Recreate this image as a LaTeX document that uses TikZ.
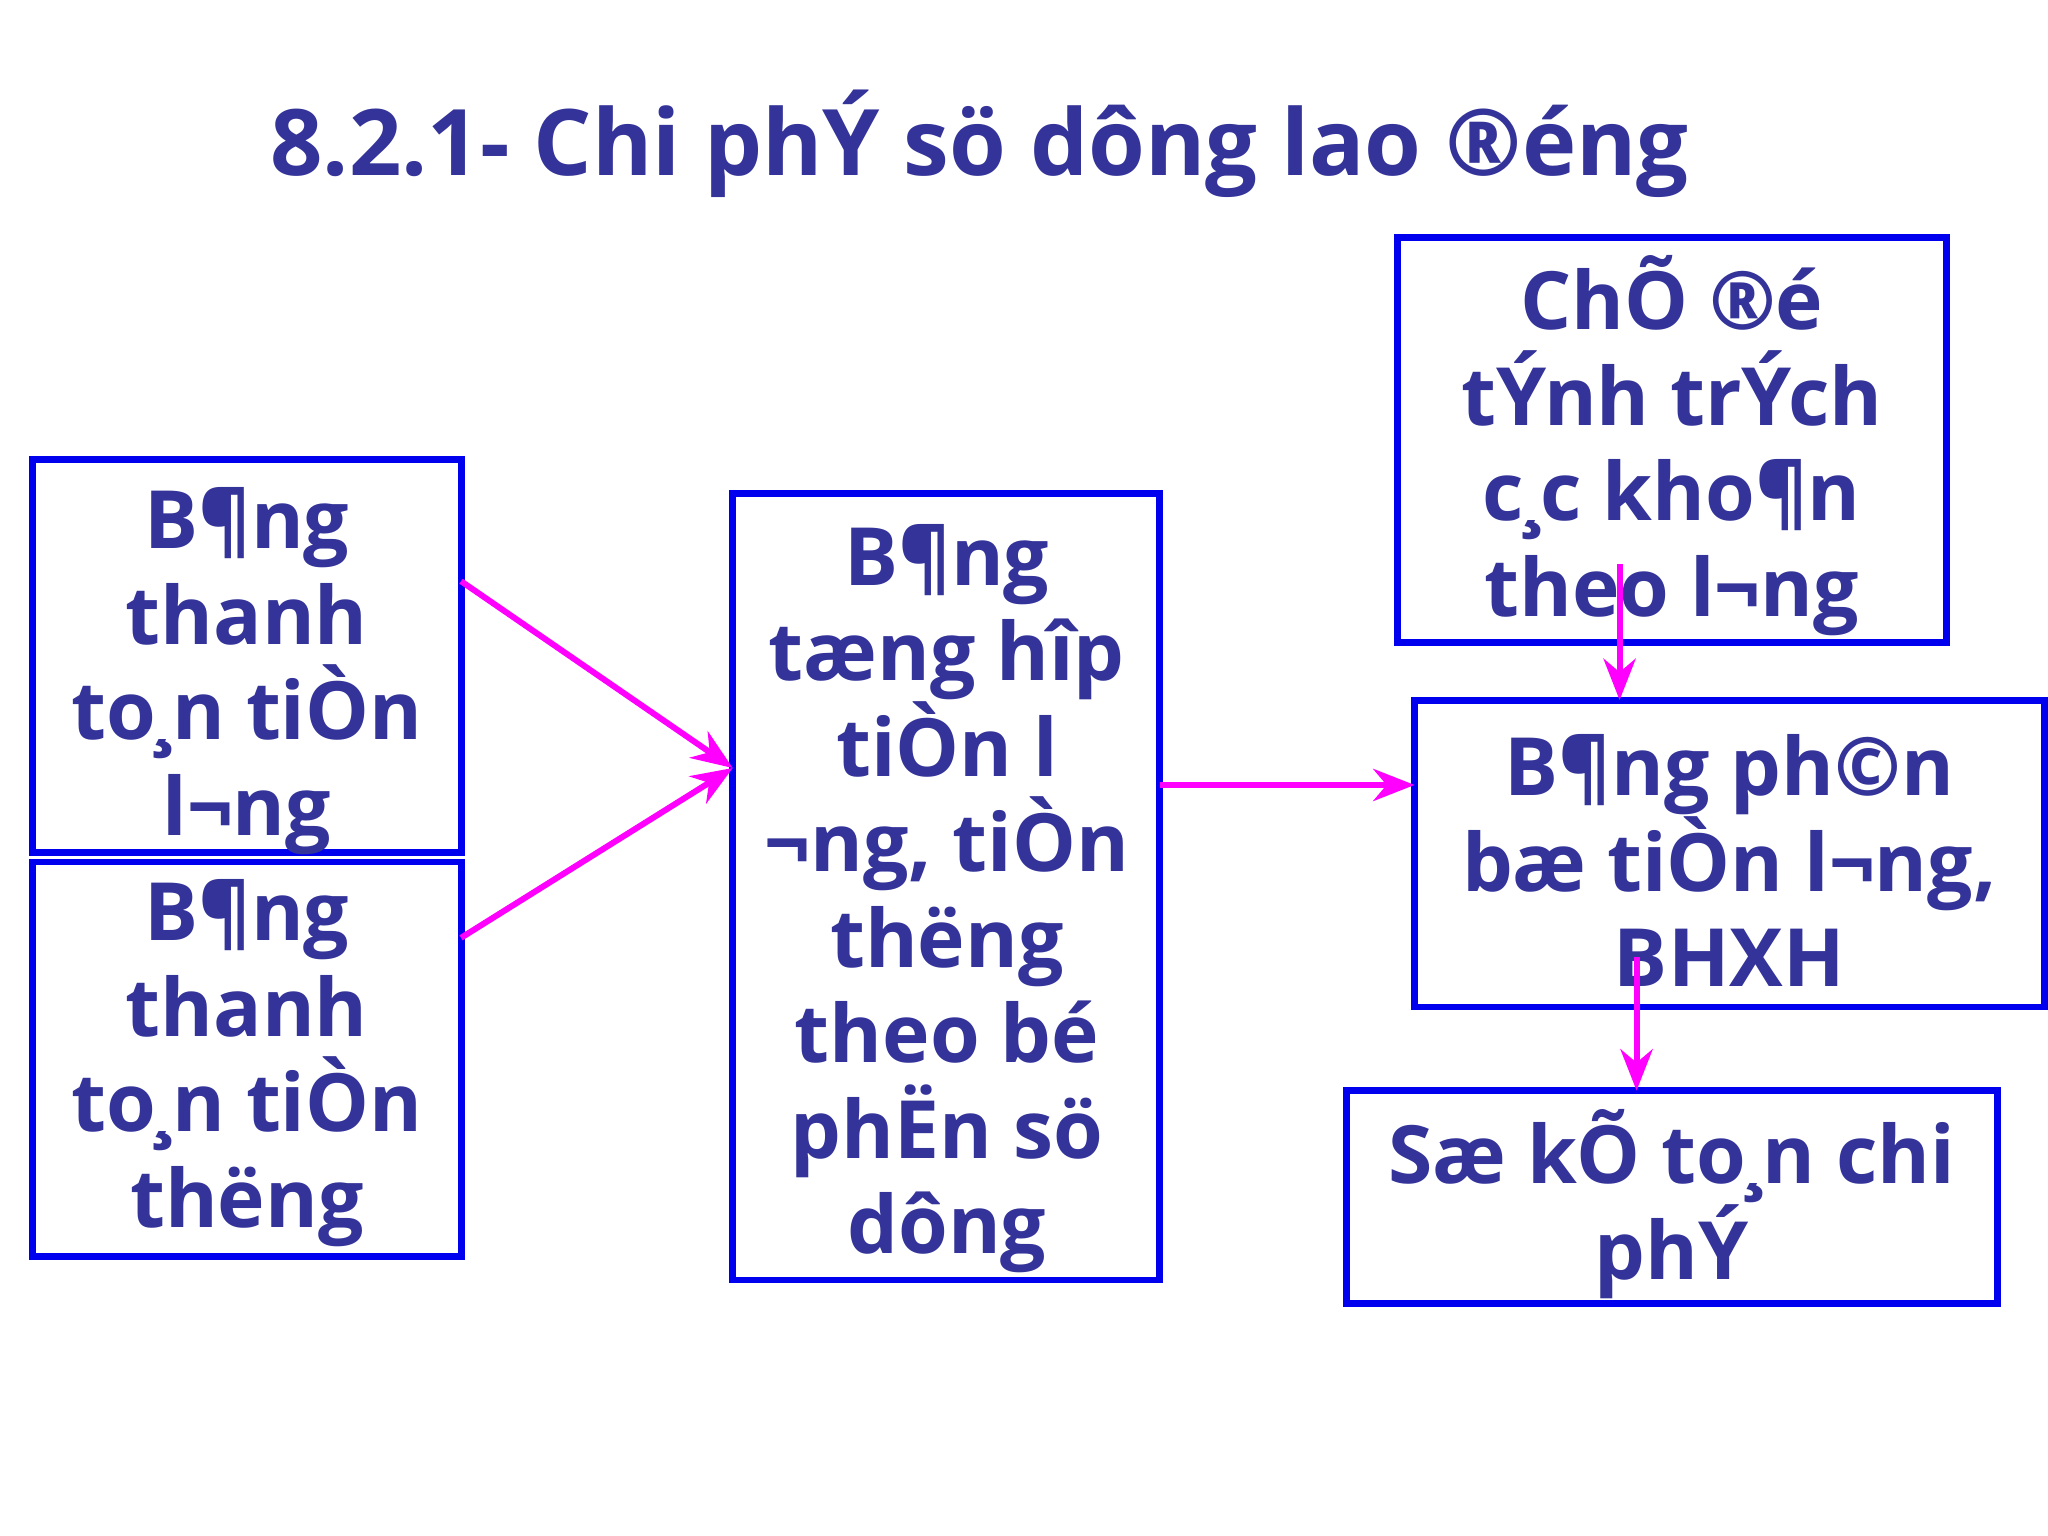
\documentclass[tikz,border=0pt]{standalone}
\usepackage{fontspec}
\setmainfont{Open Sans}
\usetikzlibrary{arrows.meta}
\definecolor{tx}{HTML}{333399}
\definecolor{bx}{HTML}{0000EE}
\definecolor{mg}{HTML}{FF00FF}
\begin{document}
\begin{tikzpicture}[x=0.01cm,y=-0.01cm,
  box/.style={draw=bx,line width=1.5pt},
  lbl/.style={text=tx,font=\fontsize{17.5}{20.8}\selectfont\bfseries,align=center,inner sep=0pt},
  arr/.style={draw=mg,line width=1.3pt,-{Stealth[length=9pt,width=7pt]}}]
\useasboundingbox (0,0) rectangle (1568,1176);
\node[text=tx,font=\fontsize{20}{24}\selectfont\bfseries] (title) at (750,110) {8.2.1- Chi phÝ sö dông lao ®éng};
\draw[box] (25,352) rectangle (353,653);
\draw[box] (25,660) rectangle (353,962);
\draw[box] (561,378) rectangle (888,980);
\draw[box] (1070,182) rectangle (1490,492);
\draw[box] (1083,536) rectangle (1565,771);
\draw[box] (1031,835) rectangle (1529,998);
\node[lbl] (l1) at (189,514) {B¶ng\\thanh\\to¸n tiÒn\\l¬ng};
\node[lbl] (l2) at (189,814) {B¶ng\\thanh\\to¸n tiÒn\\thëng};
\node[lbl] (m) at (725,688) {B¶ng\\tæng hîp\\tiÒn l\\¬ng, tiÒn\\thëng\\theo bé\\phËn sö\\dông};
\node[lbl] (tr) at (1280,341) {ChÕ ®é\\tÝnh trÝch\\c¸c kho¶n\\theo l¬ng};
\node[lbl] (rm) at (1324,659) {B¶ng ph©n\\bæ tiÒn l¬ng,\\BHXH};
\node[lbl] (br) at (1280,922) {Sæ kÕ to¸n chi\\phÝ};
\coordinate (a1) at (353,445); \coordinate (a2) at (353,718);
\coordinate (mi) at (561,588); \coordinate (mo) at (888,601);
\coordinate (ri) at (1083,601);
\coordinate (t1) at (1240,432); \coordinate (t2) at (1240,536);
\coordinate (b1) at (1253,733); \coordinate (b2) at (1253,835);
\draw[arr] (a1) -- (mi);
\draw[arr] (a2) -- (mi);
\draw[arr] (mo) -- (ri);
\draw[arr] (t1) -- (t2);
\draw[arr] (b1) -- (b2);
\end{tikzpicture}
\end{document}
